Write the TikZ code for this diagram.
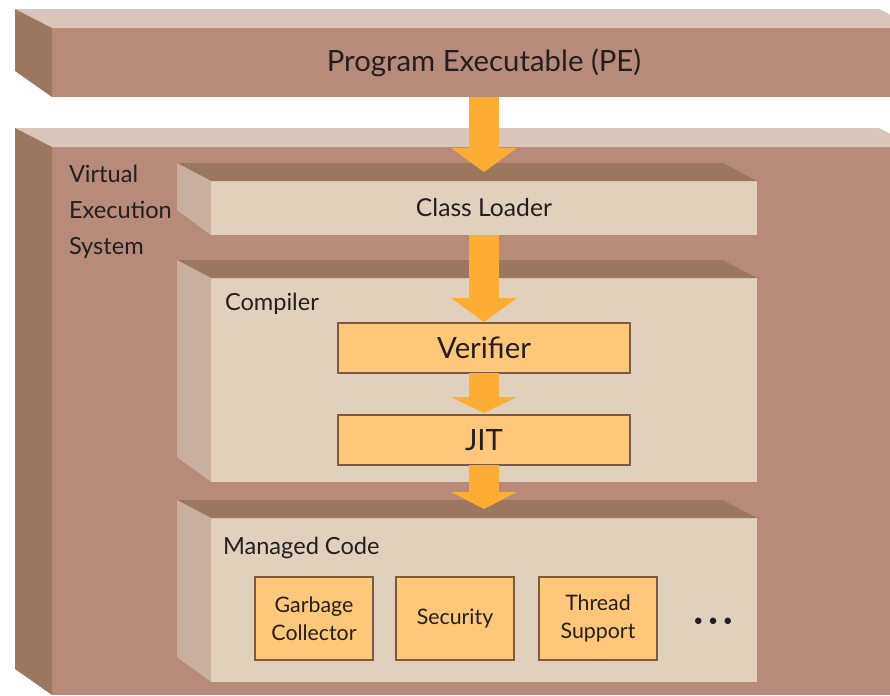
\documentclass[tikz,border=0pt]{standalone}
\usepackage{fontspec}
\setmainfont{Lato}
\usetikzlibrary{arrows.meta, positioning, calc}

% one drawing unit
\newlength{\pxu}
\setlength{\pxu}{0.75pt}

\definecolor{outerfront}{HTML}{B88A7A}
\definecolor{outertop}{HTML}{DAC5BA}
\definecolor{outerside}{HTML}{9C7760}
\definecolor{innerfront}{HTML}{E0D0BC}
\definecolor{innertop}{HTML}{9C7760}
\definecolor{innerside}{HTML}{C9AF9F}
\definecolor{unitfill}{HTML}{FFC77A}
\definecolor{unitline}{HTML}{7A5A45}
\definecolor{flowc}{HTML}{FDAC34}
\definecolor{textc}{HTML}{231F20}

% top and left faces of a block, drawn round its front node
\newcommand{\blockfaces}[5]{%
  \fill[#2] (#1.north west) -- ++(-#4,-#5) -- ($(#1.north east)+(-#4,-#5)$) -- (#1.north east) -- cycle;
  \fill[#3] (#1.north west) -- ++(-#4,-#5) -- ($(#1.south west)+(-#4,-#5-7)$) -- (#1.south west) -- cycle;
}

\begin{document}
\begin{tikzpicture}[
            x=1\pxu, y=-1\pxu,
            every node/.style={outer sep=0pt, text=textc},
            layer/.style={rectangle, inner sep=0pt, minimum width=864\pxu, fill=outerfront},
            block/.style={rectangle, inner sep=0pt, minimum width=546\pxu, fill=innerfront, font=\fontsize{18.5}{22}\selectfont},
            title/.style={anchor=north west, inner sep=0pt, align=left, font=\fontsize{17.7}{27}\selectfont},
            unit/.style={rectangle, draw=unitline, line width=0.9pt, fill=unitfill, inner sep=0pt, align=center},
            stage/.style={unit, minimum width=292\pxu, minimum height=50\pxu, font=\fontsize{22}{26}\selectfont},
            service/.style={unit, minimum width=118\pxu, minimum height=83\pxu, font=\fontsize{16}{21}\selectfont},
            flow/.style={draw=flowc, line width=22.5pt, -{Triangle[length=#1, width=49.5pt, line width=0pt]}},
            flow/.default=18pt
        ]
        \useasboundingbox (0,0) rectangle (890,696);

        % Program executable
        \node[layer, minimum height=69\pxu, font=\fontsize{22}{26}\selectfont] (pe) at (484,62.5) {Program Executable (PE)};
        \blockfaces{pe}{outertop}{outerside}{37}{19}

        % Virtual execution system
        \node[layer, minimum height=548\pxu] (ves) at (484,421) {};
        \blockfaces{ves}{outertop}{outerside}{37}{19}
        \node[title] (vestitle) at (69,165) {Virtual\\Execution\\System};

        % Class loader
        \node[block, minimum height=54\pxu] (loader) at (484,208) {\raisebox{-2pt}{Class Loader}};
        \blockfaces{loader}{innertop}{innerside}{34}{18}

        % Compiler with verifier and JIT
        \node[block, minimum height=204\pxu] (compiler) at (484,380) {};
        \blockfaces{compiler}{innertop}{innerside}{34}{18}
        \node[title] (compilertitle) at ([shift={(14,15)}]compiler.north west) {Compiler};
        \node[stage] (verifier) at (484,348) {\raisebox{-1.5pt}{Verifier}};
        \node[stage, below=31.5pt of verifier] (jit) {\raisebox{-1.5pt}{JIT}};

        % Managed code services
        \node[block, minimum height=164\pxu] (managed) at (484,600) {};
        \blockfaces{managed}{innertop}{innerside}{34}{18}
        \node[title] (managedtitle) at ([shift={(12,19)}]managed.north west) {Managed Code};
        \node[service] (gc) at (314,618.5) {Garbage\\Collector};
        \node[service, right=17.25pt of gc] (security) {Security};
        \node[service, right=18.75pt of security] (thread) {Thread\\Support};
        \node[right=24pt of thread, yshift=-3pt, font=\fontsize{13}{15}\selectfont] (more) {\textbullet\hspace{3.5pt}\textbullet\hspace{3.5pt}\textbullet};

        % Flow through the system
        \draw[flow, shorten >=6.75pt] (pe.south) -- (loader.north);
        \draw[flow, shorten >=0.75pt] (loader.south) -- (verifier.north);
        \draw[flow=12pt, shorten >=1.5pt] (verifier.south) -- (jit.north);
        \draw[flow=12.75pt, shorten >=6.75pt] (jit.south) -- (managed.north);

    \end{tikzpicture}
\end{document}
